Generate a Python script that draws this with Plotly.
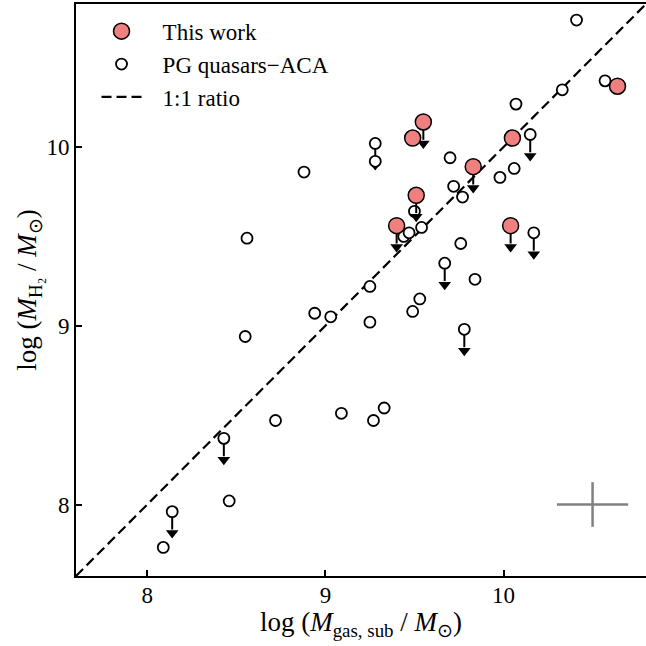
import plotly.graph_objects as go

# ---- data: "This work" ----
work_x = [9.55, 9.49, 10.05, 9.83, 9.51, 9.40, 10.04, 10.64]
work_y = [10.14, 10.05, 10.05, 9.89, 9.73, 9.56, 9.56, 10.34]
work_ul = [True, False, False, True, True, True, True, False]

# ---- data: PG quasars - ACA ----
pg_x = [10.41, 10.57, 10.33, 10.07, 10.15, 10.06, 9.98, 9.70, 9.72, 9.77,
        9.28, 9.28, 9.54, 9.44, 9.47, 9.76, 10.17, 9.67, 9.84, 9.53,
        9.49, 9.78, 9.25, 9.25, 8.88, 8.56, 8.94, 9.03, 8.55, 8.72,
        9.09, 9.27, 9.33, 8.43, 8.46, 8.14, 8.09, 9.50]
pg_y = [10.71, 10.37, 10.32, 10.24, 10.07, 9.88, 9.83, 9.94, 9.78, 9.72,
        10.02, 9.92, 9.55, 9.50, 9.52, 9.46, 9.52, 9.35, 9.26, 9.15,
        9.08, 8.98, 9.22, 9.02, 9.86, 9.49, 9.07, 9.05, 8.94, 8.47,
        8.51, 8.47, 8.54, 8.37, 8.02, 7.96, 7.76, 9.64]
pg_ul = [False, False, False, False, True, False, False, False, False, False,
         True, False, False, False, False, False, True, True, False, False,
         False, True, False, False, False, False, False, False, False, False,
         False, False, False, True, False, True, False, False]

# ---- 1:1 line and typical uncertainty ----
one_to_one = [7.6, 10.8]
err_x, err_y = [10.5], [8.0]
err_dx, err_dy = [0.2], [0.125]

# arrow geometry (dex)
STEM = 0.10
HEAD = 0.12

FONT = "Liberation Serif"
PAD = "\u00a0\u00a0\u2009"


def arrows(xs, ys, flags):
    lx, ly, hx, hy = [], [], [], []
    for x, y, f in zip(xs, ys, flags):
        if f:
            lx += [x, x, None]
            ly += [y, y - STEM, None]
            hx.append(x)
            hy.append(y - HEAD)
    return lx, ly, hx, hy


fig = go.Figure()

fig.add_trace(go.Scatter(
    x=one_to_one, y=one_to_one, mode="lines", name=PAD + "1:1 ratio",
    line=dict(color="black", width=2.2, dash="10px,5px"),
    legendrank=3, legendgroup="c"))

lx, ly, hx, hy = arrows(pg_x, pg_y, pg_ul)
fig.add_trace(go.Scatter(x=lx, y=ly, mode="lines", showlegend=False,
                         line=dict(color="black", width=2), hoverinfo="skip"))
fig.add_trace(go.Scatter(x=hx, y=hy, mode="markers", showlegend=False,
                         marker=dict(symbol="triangle-down", size=11, color="black",
                                     line=dict(width=0)), hoverinfo="skip"))
fig.add_trace(go.Scatter(
    x=pg_x, y=pg_y, mode="markers", name=PAD + "PG quasars\u2212ACA",
    marker=dict(symbol="circle", size=11, color="white",
                line=dict(color="black", width=1.8)),
    legendrank=2, legendgroup="b"))

lx, ly, hx, hy = arrows(work_x, work_y, work_ul)
fig.add_trace(go.Scatter(x=lx, y=ly, mode="lines", showlegend=False,
                         line=dict(color="black", width=2), hoverinfo="skip"))
fig.add_trace(go.Scatter(x=hx, y=hy, mode="markers", showlegend=False,
                         marker=dict(symbol="triangle-down", size=11, color="black",
                                     line=dict(width=0)), hoverinfo="skip"))
fig.add_trace(go.Scatter(
    x=work_x, y=work_y, mode="markers", name=PAD + "This work",
    marker=dict(symbol="circle", size=16, color="#F08080",
                line=dict(color="black", width=1.5)),
    legendrank=1, legendgroup="a"))

fig.add_trace(go.Scatter(
    x=err_x, y=err_y, mode="markers", showlegend=False,
    marker=dict(size=0.1, color="rgba(0,0,0,0)"),
    error_x=dict(type="data", array=err_dx, color="#808080", thickness=2.5, width=0),
    error_y=dict(type="data", array=err_dy, color="#808080", thickness=2.5, width=0),
    hoverinfo="skip"))

axis_common = dict(
    showgrid=False, zeroline=False, showline=True, linecolor="black", linewidth=1.8,
    ticks="inside", ticklen=6, tickwidth=1.5, tickcolor="black", automargin=False,
    tickfont=dict(family=FONT, size=23, color="black"),
)

fig.update_layout(
    width=646, height=646,
    margin=dict(l=76, r=0, t=4, b=70),
    plot_bgcolor="white", paper_bgcolor="white",
    font=dict(family=FONT, color="black"),
    xaxis=dict(range=[7.6, 10.8], tickvals=[8, 9, 10], mirror=True,
               ticklabelstandoff=-3,
               title=dict(text="log (<i>M</i><sub>gas, sub</sub> / <i>M</i><sub>\u2299</sub>)",
                          font=dict(family=FONT, size=27), standoff=6),
               **axis_common),
    yaxis=dict(range=[7.6, 10.8], tickvals=[8, 9, 10], mirror=False,
               title=dict(text="log (<i>M</i><sub>H\u2082</sub> / <i>M</i><sub>\u2299</sub>)",
                          font=dict(family=FONT, size=27), standoff=2),
               **axis_common),
    legend=dict(x=0.036, y=0.99, xanchor="left", yanchor="top",
                bgcolor="rgba(0,0,0,0)", font=dict(family=FONT, size=23),
                itemwidth=40, traceorder="grouped", tracegroupgap=0),
    showlegend=True,
)

fig.write_html(
    "out.html",
    config={"displayModeBar": False},
    post_script="document.body.style.margin='0';document.body.style.overflow='hidden';",
)
